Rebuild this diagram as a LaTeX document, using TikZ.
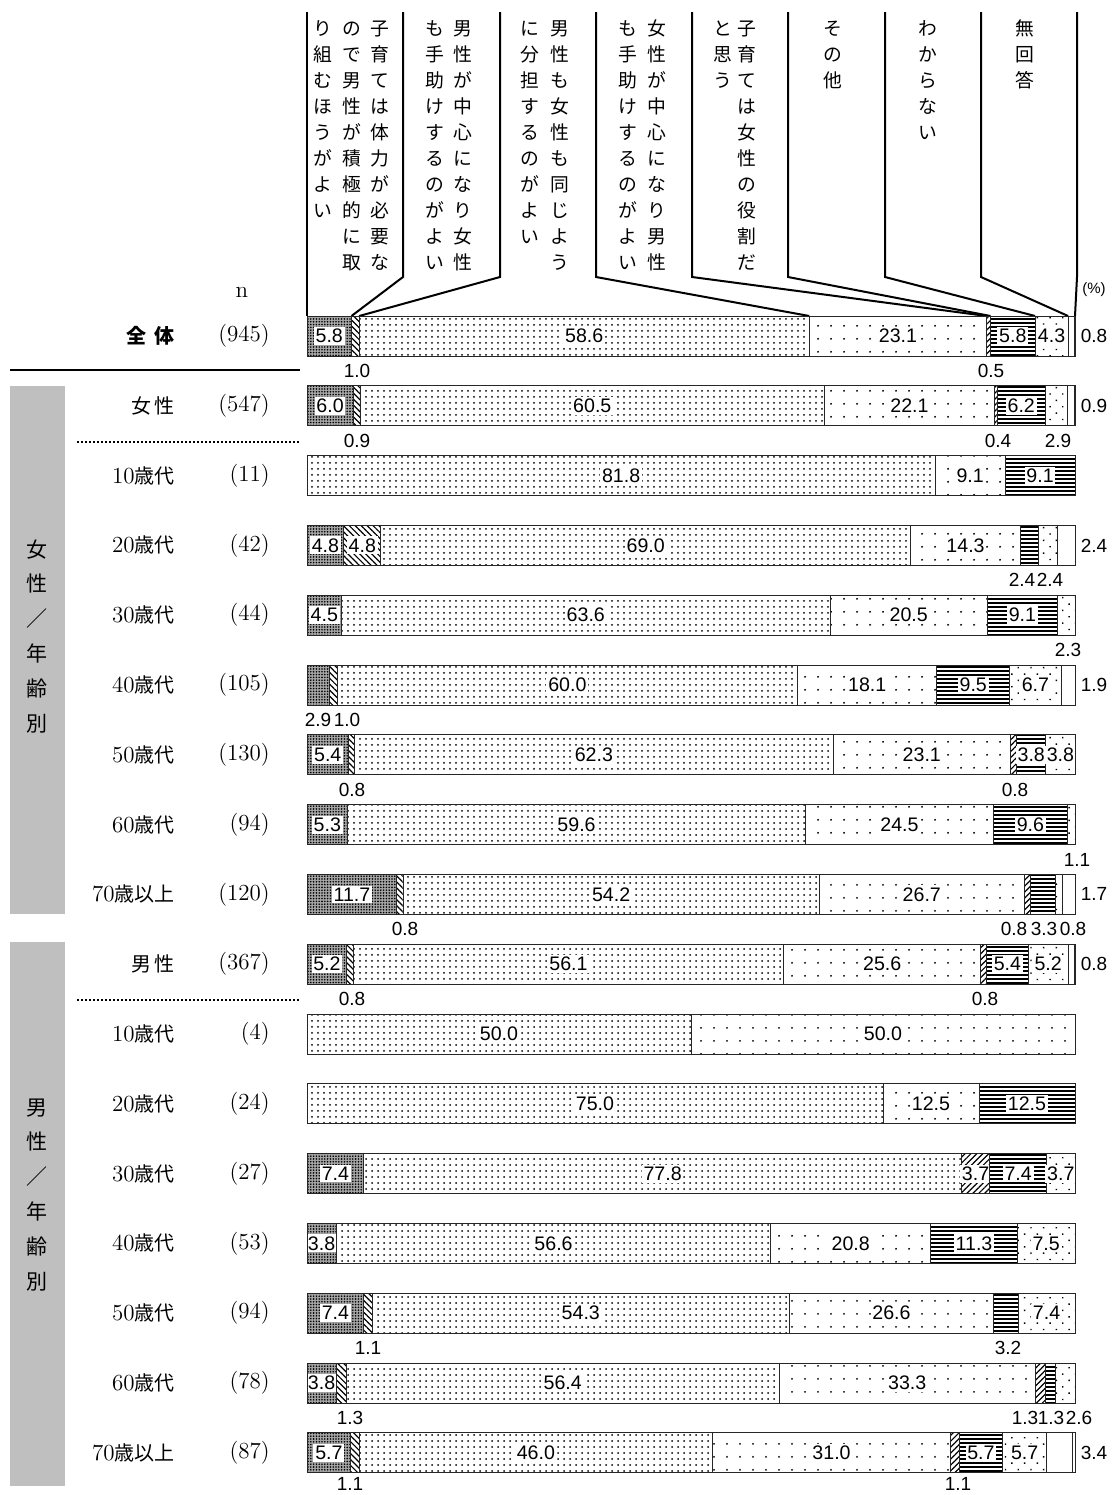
\documentclass[tikz,border=0pt]{standalone}
\usepackage{fontspec}
\setsansfont{Liberation Sans}
\newfontfamily\cjk{Noto Sans CJK JP}
\usetikzlibrary{patterns.meta}

% vertical (tate) text: #1 pitch, #2 characters
\makeatletter
\newcommand\tate[2]{\vtop{\baselineskip=#1\lineskiplimit=-100pt\lineskip=0pt
  \@tfor\tatech:=#2\do{\hbox{\tatech}}}}
\makeatother
\newcommand\dig[1]{{\rmfamily\fontsize{11.5}{12}\selectfont #1}}

\tikzset{
  hline/.style={line width=1pt},
  segline/.style={draw=black!85, line width=0.45pt},
  hdr/.style={font=\cjk\fontsize{9.4}{9.5}\selectfont, inner sep=0pt, anchor=base},
  side/.style={font=\cjk\fontsize{10.5}{10.5}\selectfont, inner sep=0pt, anchor=base},
  rowlab/.style={font=\cjk\fontsize{10}{12}\selectfont, anchor=east, inner sep=0pt},
  nlab/.style={font=\fontsize{11.5}{12}\selectfont, anchor=east, inner sep=0pt},
  val/.style={font=\sffamily\fontsize{9.8}{10}\selectfont, fill=white, inner xsep=0.9pt, inner ysep=1pt},
  sml/.style={font=\sffamily\fontsize{9.5}{10}\selectfont, inner sep=0pt},
  graybox/.style={fill=black!25},
  seg1/.style={fill=black!35, postaction={pattern={Dots[distance=1.4pt, radius=0.45pt]}}},
  seg2/.style={pattern={Lines[angle=-45, distance=2.1pt, line width=0.6pt]}},
  seg3/.style={pattern={Dots[distance=3pt, radius=0.5pt]}},
  seg4/.style={pattern={Dots[distance=6.5pt, radius=0.55pt]}},
  seg5/.style={pattern={Lines[angle=45, distance=2.1pt, line width=0.6pt]}},
  seg6/.style={pattern={Lines[angle=0, distance=2pt, line width=0.75pt]}},
  seg7/.style={pattern={Dots[angle=45, distance=4.5pt, radius=0.5pt]}},
  seg8/.style={fill=white},
}

% one stacked bar: #1 name, #2 centre y, #3 eight values
\newcommand\barrow[3]{%
  \gdef\segL{0}%
  \foreach \v [count=\k] in {#3} {%
    \pgfmathsetmacro\segR{min(\segL+\v,100)}%
    \ifdim\v pt>0pt
      \path[seg\k] ({307+7.68*\segL},{#2-20}) rectangle ({307+7.68*\segR},{#2+20});
      \draw[segline] ({307+7.68*\segL},{#2-20}) rectangle ({307+7.68*\segR},{#2+20});
      \ifnum\k<8 \ifdim\v pt>3.45pt
        \node[val] (#1-\k) at ({307+3.84*(\segL+\segR)},#2) {\v};
      \fi\fi
    \fi
    \global\let\segL\segR
  }%
  \draw[segline] (307,{#2-20}) rectangle (1075,{#2+20});
}

\begin{document}
\begin{tikzpicture}[x=0.5pt, y=-0.5pt]
\useasboundingbox (0,0) rectangle (1113,1495);

% header frame
\coordinate (top0) at (307,12);
\coordinate (foot0) at (307,316);
\draw[hline] (top0) -- (foot0);
\foreach \k/\xt/\xb in {1/403/351.5, 2/500/359.2, 3/596/809.3, 4/692/986.7,
  5/788/990.5, 6/885/1035.1, 7/981/1068.1, 8/1077/1075} {
  \coordinate (top\k) at (\xt,12);
  \coordinate (knee\k) at (\xt,277);
  \coordinate (foot\k) at (\xb,316);
  \draw[hline] (top\k) -- (knee\k) -- (foot\k);
}

% header texts
\node[hdr] (h1a) at (380,35) {\tate{13.05pt}{子育ては体力が必要な}};
\node[hdr] (h1b) at (352,35) {\tate{13.05pt}{ので男性が積極的に取}};
\node[hdr] (h1c) at (323,35) {\tate{13.05pt}{り組むほうがよい}};
\node[hdr] (h2a) at (463,35) {\tate{13.05pt}{男性が中心になり女性}};
\node[hdr] (h2b) at (435,35) {\tate{13.05pt}{も手助けするのがよい}};
\node[hdr] (h3a) at (560,35) {\tate{13.05pt}{男性も女性も同じよう}};
\node[hdr] (h3b) at (530,35) {\tate{13.05pt}{に分担するのがよい}};
\node[hdr] (h4a) at (657,35) {\tate{13.05pt}{女性が中心になり男性}};
\node[hdr] (h4b) at (628,35) {\tate{13.05pt}{も手助けするのがよい}};
\node[hdr] (h5a) at (747,35) {\tate{13.05pt}{子育ては女性の役割だ}};
\node[hdr] (h5b) at (723,35) {\tate{13.05pt}{と思う}};
\node[hdr] (h6) at (833,35) {\tate{13.05pt}{その他}};
\node[hdr] (h7) at (928,35) {\tate{13.05pt}{わからない}};
\node[hdr] (h8) at (1025,35) {\tate{13.05pt}{無回答}};

\node[font=\fontsize{11.5}{12}\selectfont, inner sep=0pt] (nhead) at (242,292) {n};
\node[font=\sffamily\fontsize{7.5}{8}\selectfont, inner sep=0pt] (pct) at (1094,290) {(\%)};

% left side
\fill[graybox] (10,386) rectangle (65,914);
\fill[graybox] (10,942) rectangle (65,1486);
\node[side] (sideF) at (37,557) {\tate{17.4pt}{女性／年齢別}};
\node[side] (sideM) at (37,1115) {\tate{17.4pt}{男性／年齢別}};
\draw[line width=1.3pt] (10,370) -- (300,370);
\draw[line width=0.9pt, dash pattern=on 1pt off 1pt] (77,442) -- (300,442);
\draw[line width=0.9pt, dash pattern=on 1pt off 1pt] (77,1000) -- (300,1000);

\node[rowlab, font=\cjk\bfseries\fontsize{10}{12}\selectfont] (r0) at (175,336) {全\hspace{4pt}体};
\node[rowlab] (r1) at (175,405.8) {女\,性};
\node[rowlab] (r2) at (175,475.6) {\dig{10}歳代};
\node[rowlab] (r3) at (175,545.4) {\dig{20}歳代};
\node[rowlab] (r4) at (175,615.2) {\dig{30}歳代};
\node[rowlab] (r5) at (175,685) {\dig{40}歳代};
\node[rowlab] (r6) at (175,754.8) {\dig{50}歳代};
\node[rowlab] (r7) at (175,824.6) {\dig{60}歳代};
\node[rowlab] (r8) at (175,894.4) {\dig{70}歳以上};
\node[rowlab] (r9) at (175,964.2) {男\,性};
\node[rowlab] (r10) at (175,1034) {\dig{10}歳代};
\node[rowlab] (r11) at (175,1103.8) {\dig{20}歳代};
\node[rowlab] (r12) at (175,1173.6) {\dig{30}歳代};
\node[rowlab] (r13) at (175,1243.4) {\dig{40}歳代};
\node[rowlab] (r14) at (175,1313.2) {\dig{50}歳代};
\node[rowlab] (r15) at (175,1383) {\dig{60}歳代};
\node[rowlab] (r16) at (175,1452.8) {\dig{70}歳以上};

\node[nlab] (n0) at (270,336) {(945)};
\node[nlab] (n1) at (270,405.8) {(547)};
\node[nlab] (n2) at (270,475.6) {(11)};
\node[nlab] (n3) at (270,545.4) {(42)};
\node[nlab] (n4) at (270,615.2) {(44)};
\node[nlab] (n5) at (270,685) {(105)};
\node[nlab] (n6) at (270,754.8) {(130)};
\node[nlab] (n7) at (270,824.6) {(94)};
\node[nlab] (n8) at (270,894.4) {(120)};
\node[nlab] (n9) at (270,964.2) {(367)};
\node[nlab] (n10) at (270,1034) {(4)};
\node[nlab] (n11) at (270,1103.8) {(24)};
\node[nlab] (n12) at (270,1173.6) {(27)};
\node[nlab] (n13) at (270,1243.4) {(53)};
\node[nlab] (n14) at (270,1313.2) {(94)};
\node[nlab] (n15) at (270,1383) {(78)};
\node[nlab] (n16) at (270,1452.8) {(87)};

% bars
\barrow{b0}{336}{5.8,1.0,58.6,23.1,0.5,5.8,4.3,0.8}
\barrow{b1}{405.8}{6.0,0.9,60.5,22.1,0.4,6.2,2.9,0.9}
\barrow{b2}{475.6}{0,0,81.8,9.1,0,9.1,0,0}
\barrow{b3}{545.4}{4.8,4.8,69.0,14.3,0,2.4,2.4,2.4}
\barrow{b4}{615.2}{4.5,0,63.6,20.5,0,9.1,2.3,0}
\barrow{b5}{685}{2.9,1.0,60.0,18.1,0,9.5,6.7,1.9}
\barrow{b6}{754.8}{5.4,0.8,62.3,23.1,0.8,3.8,3.8,0}
\barrow{b7}{824.6}{5.3,0,59.6,24.5,0,9.6,1.1,0}
\barrow{b8}{894.4}{11.7,0.8,54.2,26.7,0.8,3.3,0.8,1.7}
\barrow{b9}{964.2}{5.2,0.8,56.1,25.6,0.8,5.4,5.2,0.8}
\barrow{b10}{1034}{0,0,50.0,50.0,0,0,0,0}
\barrow{b11}{1103.8}{0,0,75.0,12.5,0,12.5,0,0}
\barrow{b12}{1173.6}{7.4,0,77.8,0,3.7,7.4,3.7,0}
\barrow{b13}{1243.4}{3.8,0,56.6,20.8,0,11.3,7.5,0}
\barrow{b14}{1313.2}{7.4,1.1,54.3,26.6,0,3.2,7.4,0}
\barrow{b15}{1383}{3.8,1.3,56.4,33.3,1.3,1.3,2.6,0}
\barrow{b16}{1452.8}{5.7,1.1,46.0,31.0,1.1,5.7,5.7,3.4}

% small values below and beside the bars
\node[sml] (s0a) at (357,371) {1.0};
\node[sml] (s0b) at (991,371) {0.5};
\node[sml] (s0r) at (1094,336) {0.8};
\node[sml] (s1a) at (357,441) {0.9};
\node[sml] (s1b) at (998,441) {0.4};
\node[sml] (s1c) at (1058,441) {2.9};
\node[sml] (s1r) at (1094,405.8) {0.9};
\node[sml] (s3a) at (1022,580) {2.4};
\node[sml] (s3b) at (1050,580) {2.4};
\node[sml] (s3r) at (1094,545.4) {2.4};
\node[sml] (s4a) at (1068,650) {2.3};
\node[sml] (s5a) at (318,720) {2.9};
\node[sml] (s5b) at (347,720) {1.0};
\node[sml] (s5r) at (1094,685) {1.9};
\node[sml] (s6a) at (352,790) {0.8};
\node[sml] (s6b) at (1015,790) {0.8};
\node[sml] (s7a) at (1077,860) {1.1};
\node[sml] (s8a) at (405,929) {0.8};
\node[sml] (s8b) at (1014,929) {0.8};
\node[sml] (s8c) at (1044,929) {3.3};
\node[sml] (s8d) at (1073,929) {0.8};
\node[sml] (s8r) at (1094,894.4) {1.7};
\node[sml] (s9a) at (352,999) {0.8};
\node[sml] (s9b) at (985,999) {0.8};
\node[sml] (s9r) at (1094,964.2) {0.8};
\node[sml] (s14a) at (368,1348) {1.1};
\node[sml] (s14b) at (1008,1348) {3.2};
\node[sml] (s15a) at (350,1418) {1.3};
\node[sml] (s15b) at (1025,1418) {1.3};
\node[sml] (s15c) at (1051,1418) {1.3};
\node[sml] (s15d) at (1079,1418) {2.6};
\node[sml] (s16a) at (350,1484) {1.1};
\node[sml] (s16b) at (958,1484) {1.1};
\node[sml] (s16r) at (1094,1452.8) {3.4};
\end{tikzpicture}
\end{document}
